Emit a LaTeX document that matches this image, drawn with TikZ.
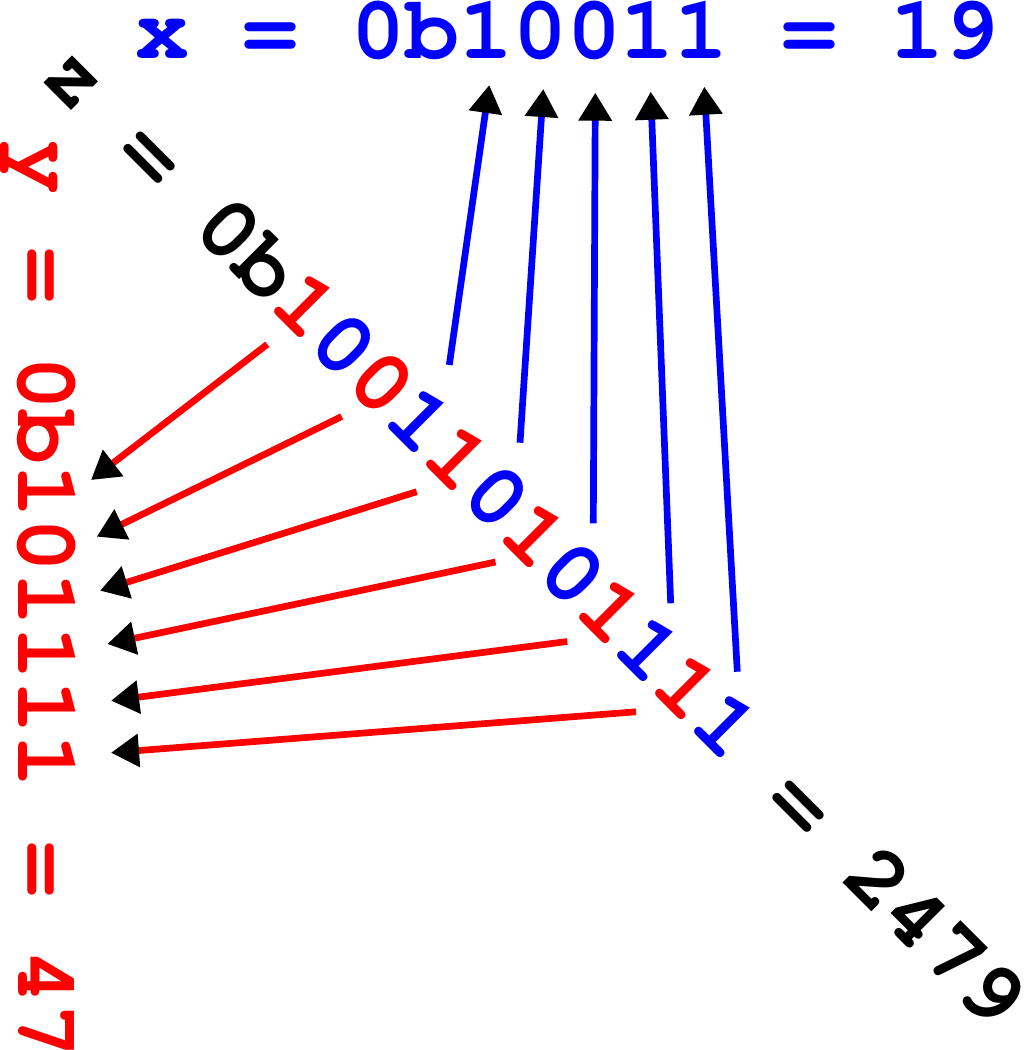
\documentclass[tikz,border=0pt]{standalone}
\usepackage{fontspec}
\setmonofont{TeX Gyre Cursor}
\usetikzlibrary{arrows.meta}
\definecolor{xblue}{RGB}{0,0,255}
\definecolor{yred}{RGB}{255,0,0}
\newcommand{\B}[1]{\textcolor{xblue}{#1}}
\newcommand{\R}[1]{\textcolor{yred}{#1}}
\begin{document}
\begin{tikzpicture}[x=1pt,y=1pt,
  lbl/.style={inner sep=0pt,outer sep=0pt,anchor=base west,
    font=\ttfamily\bfseries\fontsize{90}{90}\selectfont},
  bitarrow/.style={line width=6.7pt,
    -{Triangle[length=28pt,width=32pt,color=black]}},
  xarrow/.style={bitarrow,draw=xblue},
  yarrow/.style={bitarrow,draw=yred}]
\useasboundingbox (0,0) rectangle (1030,-1050);

% texts
\node[lbl,text=xblue] (xtxt) at (135,-58) {x = 0b10011 = 19};
\node[lbl,text=yred,rotate=-90] (ytxt) at (19,-140) {y = 0b101111 = 47};
\node[lbl,text=black,rotate=-45] (ztxt) at (38,-77.8)
  {z = 0b\R{1}\B{0}\R{0}\B{1}\R{1}\B{0}\R{1}\B{0}\R{1}\B{1}\R{1}\B{1} = 2479};

% blue connector ends (z bits -> x digits)
\coordinate (zb8) at (449.3,-365);
\coordinate (zb6) at (520,-442.7);
\coordinate (zb4) at (593.3,-523.3);
\coordinate (zb2) at (670.7,-603.3);
\coordinate (zb0) at (737.3,-671.7);
\coordinate (x4) at (489.3,-85);
\coordinate (x3) at (543.3,-89);
\coordinate (x2) at (595.3,-92.7);
\coordinate (x1) at (650.7,-91.7);
\coordinate (x0) at (704.3,-86.7);

% red connector ends (z bits -> y digits)
\coordinate (zb11) at (267.3,-344.3);
\coordinate (zb9) at (341.7,-416.5);
\coordinate (zb7) at (416.7,-491.7);
\coordinate (zb5) at (495.5,-562);
\coordinate (zb3) at (567.3,-641.5);
\coordinate (zb1) at (636,-711.8);
\coordinate (y5) at (91,-480);
\coordinate (y4) at (96.7,-536.7);
\coordinate (y3) at (100,-590.7);
\coordinate (y2) at (107.3,-644);
\coordinate (y1) at (111,-700.7);
\coordinate (y0) at (111,-752.7);

\draw[xarrow] (zb8) -- (x4);
\draw[xarrow] (zb6) -- (x3);
\draw[xarrow] (zb4) -- (x2);
\draw[xarrow] (zb2) -- (x1);
\draw[xarrow] (zb0) -- (x0);

\draw[yarrow] (zb11) -- (y5);
\draw[yarrow] (zb9) -- (y4);
\draw[yarrow] (zb7) -- (y3);
\draw[yarrow] (zb5) -- (y2);
\draw[yarrow] (zb3) -- (y1);
\draw[yarrow] (zb1) -- (y0);
\end{tikzpicture}
\end{document}
